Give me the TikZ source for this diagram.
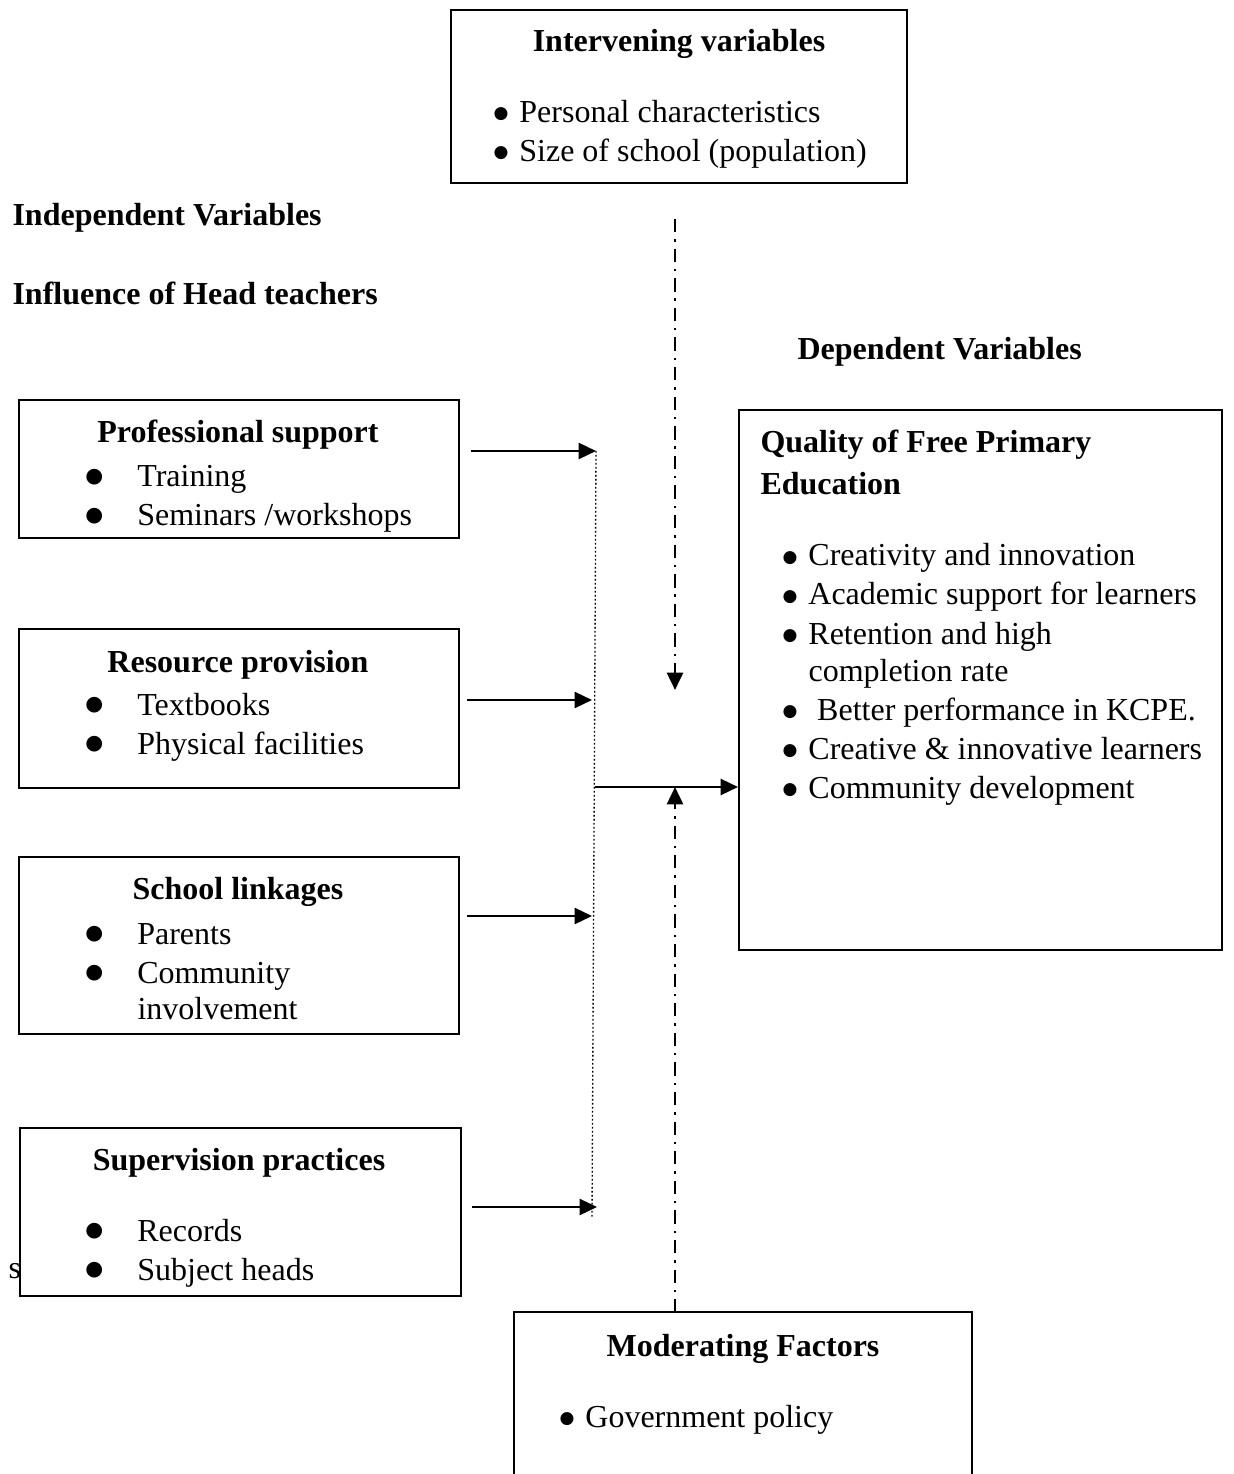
\documentclass[tikz,border=0pt]{standalone}
\usepackage{fontspec}
\setmainfont{Liberation Serif}
\newfontfamily\dotfont{DejaVu Sans}
\usepackage{tikz}
\usetikzlibrary{arrows.meta,positioning,fit}
\newcommand{\bt}{\makebox[9.7pt][l]{\raisebox{1.5pt}{\dotfont\fontsize{6.4}{6}\selectfont ●}}}
\newcommand{\bigbt}{\makebox[19.8pt][l]{\hspace{0.3pt}\raisebox{1.8pt}{\dotfont\fontsize{7.7}{7}\selectfont ●}}}
\tikzset{
  >={Triangle[length=6.5pt,width=6pt]},
  box/.style={draw, line width=0.75pt, inner sep=0pt},
  head/.style={font=\fontsize{12}{14.6}\selectfont\bfseries, anchor=base, inner sep=0pt},
  lhead/.style={head, anchor=base west},
  item/.style={font=\fontsize{12}{14.6}\selectfont, anchor=base west, inner sep=0pt},
  arr/.style={->, line width=0.9pt},
  bus/.style={line width=0.5pt, dash pattern=on 0.6pt off 0.9pt},
  dashdot/.style={->, line width=1pt, dash pattern=on 5pt off 2.6pt on 0.9pt off 2.6pt},
}
\begin{document}
\begin{tikzpicture}[x=0.375pt, y=-0.375pt]
  \useasboundingbox[fill=white] (0,0) rectangle (1233,1474);

  % boxes
  \node[box, fit={(451,10) (907,183)}] (inter) {};
  \node[box, fit={(19,400) (459,538)}] (prof) {};
  \node[box, fit={(19,629) (459,788)}] (res) {};
  \node[box, fit={(19,857) (459,1034)}] (link) {};
  \node[item] (stray) at (8,1278) {s};
  \node[box, fill=white, fit={(20,1128) (461,1296)}] (sup) {};
  \node[box, fit={(739,410) (1222,950)}] (qual) {};
  \node[inner sep=0pt, fit={(515,1313) (971,1490)}] (mod) {};
  \draw[line width=0.75pt] (mod.south west) |- (mod.north east) -- (mod.south east);

  % free labels
  \node[lhead] (indep) at (12,226) {Independent Variables};
  \node[lhead] (infl) at (12,305) {Influence of Head teachers};
  \node[lhead] (dep) at (797,360) {Dependent Variables};

  % intervening
  \node[head] (interT) at (679,52) {Intervening variables};
  \node[item] (i1) at (493,123) {\bt Personal characteristics};
  \node[item] (i2) at (493,162) {\bt Size of school (population)};

  % independent boxes
  \node[head] (profT) at (238,443) {Professional support};
  \node[item] (p1) at (84,487) {\bigbt Training};
  \node[item] (p2) at (84,526) {\bigbt Seminars /workshops};

  \node[head] (resT) at (238,672) {Resource provision};
  \node[item] (r1) at (84,715) {\bigbt Textbooks};
  \node[item] (r2) at (84,754) {\bigbt Physical facilities};

  \node[head] (linkT) at (238,899) {School linkages};
  \node[item] (l1) at (84,944) {\bigbt Parents};
  \node[item] (l2) at (84,983) {\bigbt Community};
  \node[item] (l3) at (137,1019) {involvement};

  \node[head] (supT) at (239,1170) {Supervision practices};
  \node[item] (s1) at (84,1241) {\bigbt Records};
  \node[item] (s2) at (84,1280) {\bigbt Subject heads};

  % dependent box
  \node[lhead] (qualT1) at (760,453) {Quality of Free Primary};
  \node[lhead] (qualT2) at (760,495) {Education};
  \node[item] (q1) at (782,566) {\bt Creativity and innovation};
  \node[item] (q2) at (782,605) {\bt Academic support for learners};
  \node[item] (q3) at (782,644) {\bt Retention and high};
  \node[item] (q3b) at (808,681) {completion rate};
  \node[item] (q4) at (782,720) {\bt\hspace{3.3pt}Better performance in KCPE.};
  \node[item] (q5) at (782,759) {\bt Creative \& innovative learners};
  \node[item] (q6) at (782,798) {\bt Community development};

  % moderating
  \node[head] (modT) at (743,1356) {Moderating Factors};
  \node[item] (m1) at (559,1427) {\bt Government policy};

  % connectors
  \coordinate (bt) at (596,451);
  \coordinate (bb) at (592,1217);
  \coordinate (a2) at (592,700);
  \coordinate (a3) at (592,916);
  \coordinate (a4) at (597,1207);
  \coordinate (ob) at (595,787);
  \coordinate (it) at (675,690);
  \coordinate (mt) at (675,787);

  \draw[bus] (bt) -- (bb);
  \draw[arr] (prof.east |- bt) ++(11,0) -- (bt);
  \draw[arr] (res.east |- a2) ++(7,0) -- (a2);
  \draw[arr] (link.east |- a3) ++(7,0) -- (a3);
  \draw[arr] (sup.east |- a4) ++(10,0) -- (a4);
  \draw[arr] (ob) -- (qual.west |- ob);
  \draw[dashdot] (inter.south -| it) ++(0,35) -- (it);
  \draw[dashdot] (mod.north -| mt) -- (mt);
\end{tikzpicture}
\end{document}
